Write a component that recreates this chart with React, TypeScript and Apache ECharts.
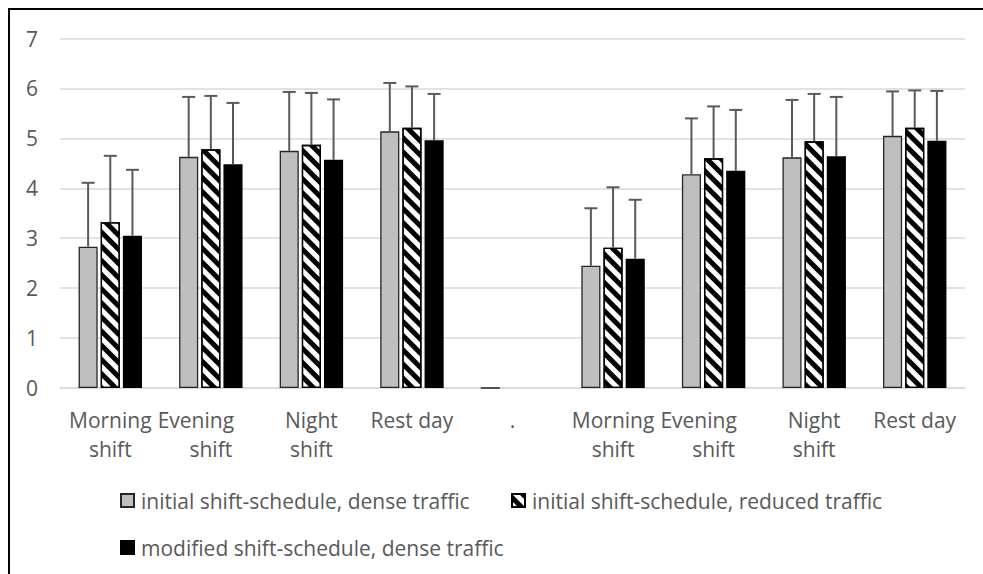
import React, { useEffect, useRef } from "react";
import * as echarts from "echarts";

const categories = [
  "Morning\nshift",
  "Evening\nshift",
  "Night\nshift",
  "Rest day",
  ".",
  "Morning\nshift",
  "Evening\nshift",
  "Night\nshift",
  "Rest day",
];

const seriesNames = [
  "initial shift-schedule, dense traffic",
  "initial shift-schedule, reduced traffic",
  "modified shift-schedule, dense traffic",
];

const initialDense = [2.83, 4.63, 4.75, 5.14, 0, 2.45, 4.28, 4.62, 5.05];
const initialDenseErrTop = [4.11, 5.83, 5.93, 6.11, null, 3.6, 5.4, 5.77, 5.94];

const initialReduced = [3.32, 4.78, 4.87, 5.21, null, 2.81, 4.6, 4.94, 5.21];
const initialReducedErrTop = [4.65, 5.85, 5.91, 6.04, null, 4.02, 5.64, 5.89, 5.96];

const modifiedDense = [3.05, 4.48, 4.57, 4.96, null, 2.59, 4.35, 4.64, 4.95];
const modifiedDenseErrTop = [4.37, 5.71, 5.78, 5.89, null, 3.77, 5.57, 5.83, 5.95];

const yTicks = [0, 1, 2, 3, 4, 5, 6, 7];

const FONT = "'Open Sans', sans-serif";
const FS = 21;
const BAR_FRAC = 0.19;
const GAP_FRAC = 0.16;

export default function App() {
  const ref = useRef<HTMLDivElement>(null);

  useEffect(() => {
    if (!ref.current) return;
    const chart = echarts.init(ref.current, null, { renderer: "svg" });

    const values = [initialDense, initialReduced, modifiedDense];
    const errs = [initialDenseErrTop, initialReducedErrTop, modifiedDenseErrTop];

    const styles = [
      { color: "#bfbfbf", borderColor: "#262626", borderWidth: 1.3 },
      {
        color: "#ffffff",
        borderColor: "#000000",
        borderWidth: 1.3,
        decal: {
          symbol: "rect",
          symbolSize: 1,
          dashArrayX: [1, 0],
          dashArrayY: [4.5, 4.5],
          rotation: Math.PI / 4,
          color: "#000000",
        },
      },
      { color: "#000000", borderColor: "#000000", borderWidth: 1.3 },
    ];

    const barSeries = values.map((v, i) => ({
      name: seriesNames[i],
      type: "bar",
      data: v,
      barWidth: BAR_FRAC * 100 + "%",
      barGap: GAP_FRAC * 100 + "%",
      itemStyle: styles[i],
      z: 2,
    }));

    const errSeries = errs.map((e, i) => ({
      name: "err" + i,
      type: "custom",
      z: 3,
      data: categories
        .map((_, k) => [k, values[i][k], e[k]])
        .filter((d) => d[1] != null && d[2] != null),
      renderItem: (params: any, api: any) => {
        const x = api.value(0);
        const v = api.value(1);
        const t = api.value(2);
        const band = api.size([1, 0])[0];
        const bw = band * BAR_FRAC;
        const off = (i - 1) * bw * (1 + GAP_FRAC);
        const p0 = api.coord([x, v]);
        const p1 = api.coord([x, t]);
        const cx = p0[0] + off;
        const capHalf = 6.5;
        const style = { stroke: "#595959", lineWidth: 2 };
        return {
          type: "group",
          children: [
            { type: "line", shape: { x1: cx, y1: p0[1], x2: cx, y2: p1[1] }, style },
            {
              type: "line",
              shape: { x1: cx - capHalf, y1: p1[1], x2: cx + capHalf, y2: p1[1] },
              style,
            },
          ],
        };
      },
    }));

    const legendBase = {
      padding: 0,
      itemWidth: 13,
      itemHeight: 13,
      icon: "rect",
      textStyle: {
        fontFamily: FONT,
        fontSize: FS,
        color: "#595959",
        padding: [0, 0, 0, 2],
      },
      selectedMode: false,
    };

    chart.setOption({
      animation: false,
      backgroundColor: "#ffffff",
      textStyle: { fontFamily: FONT },
      grid: { left: 60, right: 18, top: 38.5, bottom: 186, containLabel: false },
      legend: [
        { ...legendBase, left: 120, top: 490, data: [seriesNames[0]] },
        { ...legendBase, left: 511, top: 490, data: [seriesNames[1]] },
        { ...legendBase, left: 120, top: 537, data: [seriesNames[2]] },
      ],
      xAxis: {
        type: "category",
        data: categories,
        axisTick: { show: false },
        axisLine: { lineStyle: { color: "#d9d9d9", width: 1.5 } },
        axisLabel: {
          interval: 0,
          fontFamily: FONT,
          fontSize: FS,
          color: "#595959",
          lineHeight: 29,
          margin: 17,
          formatter: (v: string) =>
            v.startsWith("Evening") ? "{ev|Evening}\n{n|shift}" : v,
          rich: {
            ev: {
              fontFamily: FONT,
              fontSize: FS,
              color: "#595959",
              lineHeight: 29,
              padding: [0, 30, 0, 0],
            },
            n: { fontFamily: FONT, fontSize: FS, color: "#595959", lineHeight: 29 },
          },
        },
      },
      yAxis: {
        type: "value",
        min: yTicks[0],
        max: yTicks[yTicks.length - 1],
        interval: 1,
        axisLine: { show: false },
        axisTick: { show: false },
        axisLabel: { fontFamily: FONT, fontSize: FS, color: "#595959", margin: 22 },
        splitLine: { lineStyle: { color: "#d9d9d9", width: 1.5 } },
      },
      graphic: [
        {
          type: "rect",
          shape: { x: 9, y: 9, width: 2000, height: 2000 },
          style: { fill: "none", stroke: "#000000", lineWidth: 2 },
          silent: true,
          z: 100,
        },
      ],
      series: [...barSeries, ...errSeries],
    });

    return () => chart.dispose();
  }, []);

  return (
    <div
      ref={ref}
      style={{ position: "fixed", left: 0, top: 0, width: 983, height: 574 }}
    />
  );
}
